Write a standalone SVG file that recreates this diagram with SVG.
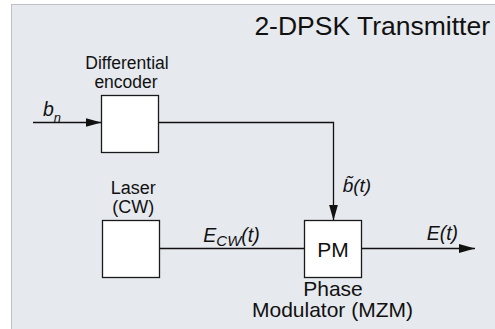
<svg xmlns="http://www.w3.org/2000/svg" width="495" height="329" viewBox="0 0 495 329">
<defs>
<style>
text{font-family:"Liberation Sans",Arial,sans-serif;fill:#111}
.lbl{font-size:18px;text-anchor:middle}
.big{font-size:21px;text-anchor:middle}
.it{font-style:italic;font-size:19.5px}
.box{fill:#fff;stroke:#1a1a1a;stroke-width:1.3}
.wire{fill:none;stroke:#111;stroke-width:1.3}
</style>
<marker id="arr" viewBox="0 0 16 10" refX="16" refY="5" markerWidth="16" markerHeight="10" markerUnits="userSpaceOnUse" orient="auto">
<path d="M0,0.5 L16,5 L0,9.5 z" fill="#111"/>
</marker>
</defs>
<rect x="0" y="0" width="495" height="329" fill="#fff"/>
<rect x="11.5" y="4.5" width="500" height="340" fill="#e6e9ee" stroke="#8a8a8a" stroke-width="1" stroke-dasharray="1,1"/>
<text x="490" y="35" style="font-size:26.5px;text-anchor:end">2-DPSK Transmitter</text>
<g id="connectors">
<line class="wire" x1="33" y1="122.5" x2="101.5" y2="122.5" marker-end="url(#arr)"/>
<polyline class="wire" points="158.5,122.5 333.5,122.5 333.5,220.5" marker-end="url(#arr)"/>
<line class="wire" x1="159.5" y1="248.5" x2="304.5" y2="248.5"/>
<line class="wire" x1="361.5" y1="248.5" x2="475" y2="248.5" marker-end="url(#arr)"/>
<text x="43" y="116" class="it">b<tspan style="font-size:13px" dy="6">n</tspan></text>
<text x="342.7" y="191.7" class="it" style="font-size:19px">b̃(t)</text>
<text x="203.3" y="241.5" class="it">E<tspan style="font-size:15px" dy="4">CW</tspan><tspan dy="-4">(t)</tspan></text>
<text x="426.7" y="240" class="it">E(t)</text>
</g>
<g id="encoder">
<rect class="box" x="101.5" y="95.5" width="57" height="57"/>
<text class="lbl" style="font-size:17.5px"><tspan x="127" y="68.5">Differential</tspan><tspan x="126" y="87.5">encoder</tspan></text>
</g>
<g id="laser">
<rect class="box" x="102.5" y="220.5" width="57" height="57"/>
<text class="lbl"><tspan x="133.3" y="194">Laser</tspan><tspan x="133.3" y="212.5">(CW)</tspan></text>
</g>
<g id="pm">
<rect class="box" x="304.5" y="220.5" width="57" height="57"/>
<text x="333" y="257" class="big">PM</text>
<text class="big"><tspan x="333" y="295.5">Phase</tspan><tspan x="332.5" y="316.7">Modulator (MZM)</tspan></text>
</g>
</svg>
